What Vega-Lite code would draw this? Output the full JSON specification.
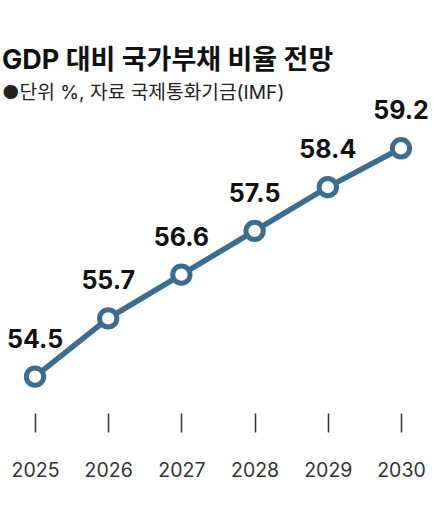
{
  "$schema": "https://vega.github.io/schema/vega-lite/v6.json",
  "width": 432,
  "height": 280,
  "padding": {"left": 2, "top": 47, "right": 7, "bottom": 10},
  "background": "white",
  "title": {
    "text": "GDP 대비 국가부채 비율 전망",
    "subtitle": "●단위 %, 자료 국제통화기금(IMF)",
    "anchor": "start",
    "frame": "group",
    "font": "Inter, Noto Sans CJK KR",
    "fontSize": 27,
    "fontWeight": "bold",
    "color": "#111111",
    "subtitleFont": "Inter, Noto Sans CJK KR",
    "subtitleFontSize": 19.2,
    "subtitleColor": "#222222",
    "subtitlePadding": 9,
    "offset": -5
  },
  "data": {
    "values": [
      {"year": "2025", "value": 54.5},
      {"year": "2026", "value": 55.7},
      {"year": "2027", "value": 56.6},
      {"year": "2028", "value": 57.5},
      {"year": "2029", "value": 58.4},
      {"year": "2030", "value": 59.2}
    ]
  },
  "encoding": {
    "x": {
      "field": "year",
      "type": "ordinal",
      "scale": {"type": "point", "padding": 0.451},
      "axis": {
        "title": null,
        "domain": false,
        "grid": false,
        "ticks": true,
        "tickSize": 19,
        "tickWidth": 1.5,
        "tickColor": "#333333",
        "offset": 3,
        "labelPadding": 29.5,
        "labelFont": "Inter",
        "labelFontSize": 19.5,
        "labelColor": "#333333",
        "labelAngle": 0
      }
    },
    "y": {
      "field": "value",
      "type": "quantitative",
      "scale": {"domain": [53.815, 59.576], "nice": false, "zero": false},
      "axis": null
    }
  },
  "layer": [
    {"mark": {"type": "line", "color": "#3b6d8e", "strokeWidth": 5.5}},
    {"mark": {"type": "point", "shape": "circle", "filled": true, "fill": "white", "stroke": "#3b6d8e", "strokeWidth": 5, "size": 300, "opacity": 1}},
    {
      "mark": {"type": "text", "font": "Inter", "fontSize": 25, "fontWeight": "bold", "color": "#111111", "dy": -37, "baseline": "middle"},
      "encoding": {"text": {"field": "value", "type": "quantitative", "format": ".1f"}}
    }
  ],
  "config": {"view": {"stroke": null}}
}
